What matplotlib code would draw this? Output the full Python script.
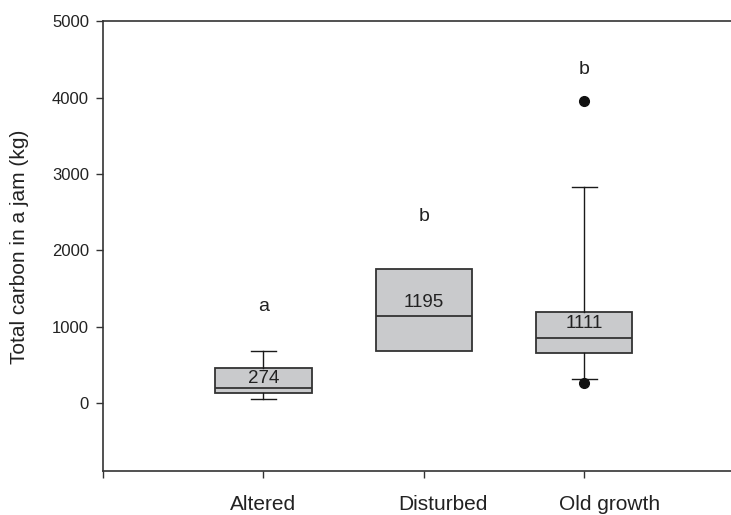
import matplotlib
matplotlib.use("Agg")
import matplotlib.pyplot as plt

# box statistics (kg)
groups = ["Altered", "Disturbed", "Old growth"]
q1 = [131, 679, 657]
med = [201, 1138, 854]
q3 = [451, 1760, 1191]
wlo = [48, 679, 306]
whi = [679, 1760, 2833]
outliers = [[], [], [263, 3962]]
means = [274, 1195, 1111]
mean_y = [324, 1322, 1038]
letters = ["a", "b", "b"]
letter_y = [1257, 2439, 4374]

plt.rcParams['font.family'] = ['Liberation Sans', 'DejaVu Sans']

fig = plt.figure(figsize=(7.31, 5.15), dpi=100)
ax = fig.add_axes([0.1409, 0.0845, 0.878, 0.8738])

stats = []
for i in range(3):
    stats.append(dict(label=groups[i], q1=q1[i], med=med[i], q3=q3[i],
                      whislo=wlo[i], whishi=whi[i], fliers=outliers[i]))

ax.bxp(stats, positions=[1, 2, 3], widths=0.6, capwidths=[0.16, 0, 0.16],
       patch_artist=True, showfliers=True,
       boxprops=dict(facecolor='#c9cacc', edgecolor='#333333', linewidth=1.3),
       medianprops=dict(color='#333333', linewidth=1.3),
       whiskerprops=dict(color='#1a1a1a', linewidth=1.0),
       capprops=dict(color='#1a1a1a', linewidth=1.0),
       flierprops=dict(marker='o', markerfacecolor='#111111',
                       markeredgecolor='#111111', markersize=7))

for i in range(3):
    ax.text(i + 1, mean_y[i], str(means[i]), ha='center', va='center',
            fontsize=13.5, color='#222222')
    ax.text(i + 1, letter_y[i], letters[i], ha='center', va='center',
            fontsize=14, color='#222222')

ax.set_xlim(0, 4)
ax.set_ylim(-900, 5000)
ax.set_yticks([0, 1000, 2000, 3000, 4000, 5000])
ax.set_xticks([0, 1, 2, 3])
ax.set_xticklabels([])
ax.tick_params(axis='both', direction='out', length=5, width=1, color='#333333',
               labelsize=12, labelcolor='#222222', pad=5)
for s in ax.spines.values():
    s.set_color('#333333')
    s.set_linewidth(1.2)

ax.set_ylabel("Total carbon in a jam (kg)", fontsize=15, color='#222222')
ax.yaxis.set_label_coords(-0.116, 0.5)

# category labels sit lower than the ticks and drift right
label_x = [1.0, 2.12, 3.16]
for i in range(3):
    ax.text(label_x[i], -0.053, groups[i], transform=ax.get_xaxis_transform(),
            ha='center', va='top', fontsize=15, color='#222222')

fig.savefig("out.png", dpi=100)
